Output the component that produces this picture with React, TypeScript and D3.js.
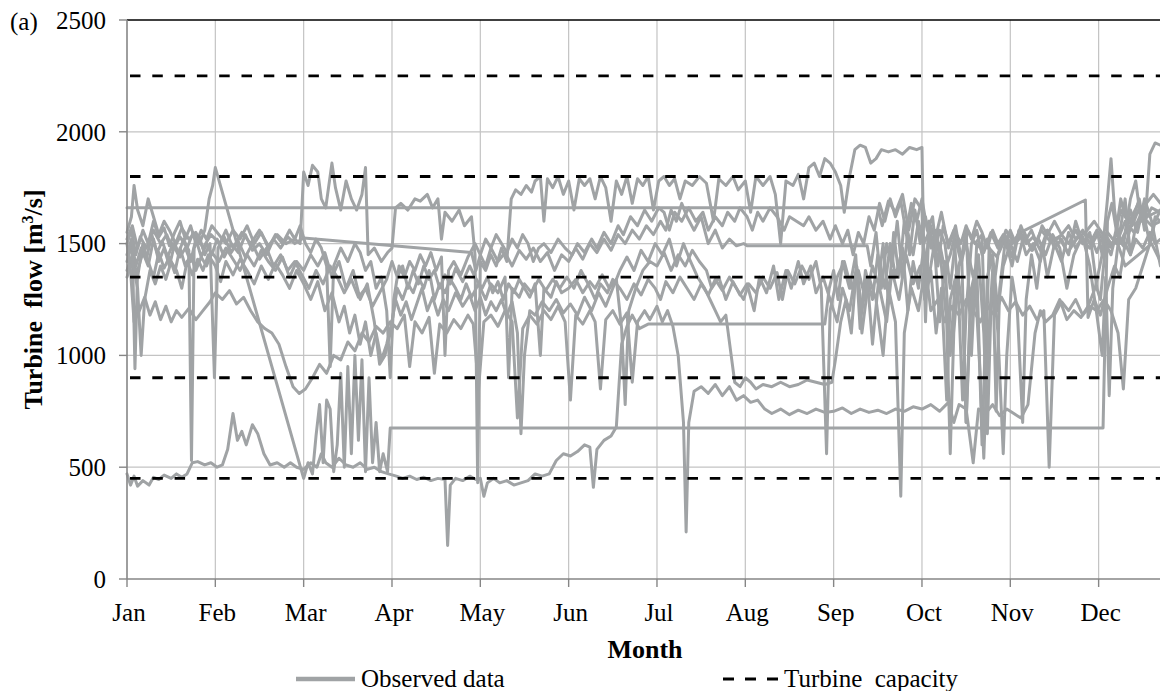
import React from "react";
import * as d3 from "d3";

// x values are in months from 1 Jan (0 = Jan, 1 = Feb, ...), y values in m3/s
type Pt = [number, number];

const MONTHS = ["Jan", "Feb", "Mar", "Apr", "May", "Jun", "Jul", "Aug", "Sep", "Oct", "Nov", "Dec"];
const Y_TICKS = [0, 500, 1000, 1500, 2000, 2500];
const CAPACITY = [450, 900, 1350, 1800, 2250];

const OBS_A: Pt[] = [
  [0, 1660], [8.5, 1660], [8.55, 1580], [8.62, 1690], [8.7, 1640], [8.78, 1720], [8.85, 1560], [8.92, 1700],
  [9.0, 1650], [9.04, 1150], [9.08, 1600], [9.15, 1520], [9.22, 1640], [9.3, 1480], [9.38, 1580], [9.45, 1420],
  [9.52, 1560], [9.6, 1500], [9.68, 1540], [9.72, 950], [9.76, 1480], [9.85, 1440], [9.95, 1560], [10.05, 1500],
  [10.15, 1540], [10.25, 1470], [10.35, 1560], [10.45, 1510], [10.55, 1530], [10.65, 1460], [10.75, 1520],
  [10.85, 1550], [10.95, 1600], [11.05, 1540], [11.15, 1480], [11.25, 1650], [11.35, 1600], [11.45, 1680],
  [11.55, 1620], [11.7, 1650],
];

const OBS_B: Pt[] = [
  [0, 1500], [0.05, 1560], [0.1, 1450], [0.15, 1530], [0.22, 1480], [0.3, 1560], [0.38, 1500], [0.45, 1540],
  [0.52, 1470], [0.6, 1530], [0.68, 1480], [0.75, 1550], [0.82, 1500], [0.88, 1560], [0.93, 1700], [0.97, 1760],
  [1.0, 1840], [2.0, 450], [2.05, 520], [2.1, 470], [2.14, 640], [2.18, 780], [2.22, 520], [2.26, 800],
  [2.3, 760], [2.34, 480], [2.38, 600], [2.42, 920], [2.46, 500], [2.5, 950], [2.54, 560], [2.58, 1000],
  [2.62, 620], [2.66, 980], [2.7, 480], [2.74, 900], [2.78, 520], [2.82, 700], [2.86, 480], [2.9, 560],
  [2.95, 480], [2.98, 675], [11.05, 675], [11.1, 1600], [11.15, 1680], [11.2, 1560], [11.25, 1700],
  [11.3, 1620], [11.38, 1580], [11.45, 1650], [11.52, 1600], [11.6, 1660], [11.7, 1640],
];

const OBS_C: Pt[] = [
  [0, 470], [0.04, 420], [0.08, 460], [0.12, 415], [0.18, 440], [0.25, 420], [0.3, 455], [0.36, 445],
  [0.42, 465], [0.5, 450], [0.56, 470], [0.62, 455], [0.68, 470], [0.74, 520], [0.8, 525], [0.88, 510],
  [0.95, 520], [1.02, 500], [1.08, 510], [1.14, 580], [1.2, 740], [1.25, 620], [1.3, 660], [1.35, 600],
  [1.42, 690], [1.48, 650], [1.55, 560], [1.62, 510], [1.7, 520], [1.78, 500], [1.85, 520], [1.92, 500],
  [2.0, 490], [2.08, 520], [2.15, 500], [2.2, 560], [2.25, 520], [2.32, 500], [2.4, 540], [2.48, 510],
  [2.56, 500], [2.64, 520], [2.72, 490], [2.8, 500], [2.88, 480], [2.96, 470], [3.05, 460], [3.12, 450],
  [3.2, 460], [3.28, 445], [3.36, 455], [3.44, 440], [3.52, 450], [3.6, 445], [3.63, 150], [3.66, 420],
  [3.72, 450], [3.8, 440], [3.88, 460], [3.95, 445], [4.0, 450], [4.04, 370], [4.08, 430], [4.15, 450],
  [4.22, 430], [4.3, 440], [4.38, 420], [4.46, 430], [4.54, 440], [4.62, 470], [4.7, 460], [4.78, 470],
  [4.86, 530], [4.94, 560], [5.02, 550], [5.1, 570], [5.18, 600], [5.24, 590], [5.28, 410], [5.32, 580],
  [5.4, 620], [5.48, 640], [5.54, 680], [5.6, 1050], [5.66, 1130], [5.72, 1180], [5.8, 1120], [5.9, 1140],
  [7.9, 1140], [7.95, 1300], [8.0, 1380], [8.05, 1250], [8.1, 1420], [8.18, 1300], [8.25, 1450], [8.3, 1120],
  [8.36, 1380], [8.44, 1250], [8.5, 1450], [8.58, 1300], [8.64, 1500], [8.7, 1350], [8.78, 1480], [8.84, 1200],
  [8.9, 1420], [8.96, 1300], [9.02, 1480], [9.08, 1350], [9.14, 1500], [9.2, 1150], [9.26, 1420], [9.32, 1000],
  [9.38, 1350], [9.45, 1450], [9.5, 700], [9.56, 1300], [9.62, 1400], [9.68, 600], [9.74, 1350], [9.8, 1450],
  [9.86, 1200], [9.92, 1400], [10.0, 1500], [10.08, 1420], [10.16, 1550], [10.24, 1470], [10.32, 1520],
  [10.4, 1450], [10.48, 1540], [10.56, 1480], [10.64, 1300], [10.72, 1450], [10.8, 1520], [10.9, 1480],
  [11.0, 1550], [11.1, 1480], [11.2, 1520], [11.3, 1400], [11.45, 1450], [11.6, 1500], [11.7, 1420],
];

const OBS_D: Pt[] = [
  [0, 1550], [0.05, 1620], [0.08, 1760], [0.12, 1650], [0.18, 1580], [0.24, 1700], [0.3, 1620], [0.36, 1540],
  [0.42, 1600], [0.48, 1560], [0.55, 1500], [0.62, 1570], [0.7, 1520], [0.78, 1550], [0.86, 1480], [0.95, 1540],
  [1.05, 1500], [1.12, 1560], [1.2, 1480], [1.3, 1550], [1.4, 1500], [1.5, 1560], [1.6, 1490], [1.7, 1540],
  [1.8, 1500], [1.9, 1520], [1.96, 1500], [2.0, 1820], [2.05, 1760], [2.1, 1850], [2.16, 1820], [2.2, 1700],
  [2.25, 1660], [2.32, 1860], [2.36, 1750], [2.42, 1650], [2.48, 1780], [2.54, 1700], [2.6, 1650], [2.66, 1720],
  [2.7, 1840], [2.73, 1450], [2.8, 1480], [2.88, 1420], [2.95, 1460], [3.0, 1480], [3.04, 1660], [3.1, 1680],
  [3.18, 1650], [3.26, 1700], [3.32, 1690], [3.4, 1720], [3.46, 1660], [3.52, 1700], [3.56, 1520], [3.6, 1640],
  [3.68, 1600], [3.76, 1650], [3.82, 1580], [3.9, 1620], [3.94, 1450], [3.97, 430], [4.0, 1420], [4.06, 1380],
  [4.12, 1450], [4.18, 1400], [4.24, 1480], [4.3, 1420], [4.35, 1700], [4.4, 1740], [4.46, 1720], [4.52, 1760],
  [4.58, 1730], [4.62, 1780], [4.68, 1800], [4.72, 1600], [4.76, 1790], [4.82, 1750], [4.88, 1800], [4.94, 1720],
  [5.0, 1780], [5.06, 1650], [5.12, 1790], [5.18, 1760], [5.24, 1790], [5.3, 1700], [5.36, 1800], [5.42, 1750],
  [5.48, 1600], [5.54, 1780], [5.6, 1720], [5.66, 1800], [5.72, 1680], [5.78, 1790], [5.84, 1760], [5.9, 1800],
  [5.96, 1650], [6.02, 1780], [6.08, 1800], [6.14, 1760], [6.2, 1790], [6.26, 1700], [6.32, 1780], [6.4, 1760],
  [6.48, 1800], [6.56, 1770], [6.64, 1600], [6.7, 1790], [6.78, 1760], [6.86, 1800], [6.92, 1740], [7.0, 1780],
  [7.06, 1640], [7.12, 1800], [7.2, 1760], [7.28, 1800], [7.34, 1720], [7.4, 1500], [7.46, 1780], [7.54, 1760],
  [7.6, 1810], [7.66, 1700], [7.72, 1840], [7.78, 1860], [7.84, 1800], [7.9, 1880], [7.96, 1860], [8.02, 1820],
  [8.08, 1760], [8.12, 1640], [8.18, 1800], [8.24, 1920], [8.3, 1940], [8.36, 1930], [8.42, 1860], [8.48, 1880],
  [8.54, 1920], [8.62, 1910], [8.7, 1920], [8.78, 1900], [8.86, 1930], [8.94, 1920], [9.0, 1930], [9.03, 1250],
  [9.08, 1600], [9.14, 1450], [9.2, 1560], [9.26, 1500], [9.32, 1300], [9.38, 1520], [9.44, 1420], [9.5, 1560],
  [9.56, 1000], [9.62, 1500], [9.7, 1460], [9.78, 1550], [9.86, 1480], [9.94, 1540], [10.02, 1440], [10.1, 1560],
  [10.18, 1500], [10.26, 1530], [10.34, 1470], [10.42, 1560], [10.5, 1510], [10.58, 1540], [10.66, 1500],
  [10.74, 1560], [10.82, 1500], [10.9, 1540], [10.98, 1460], [11.06, 1550], [11.14, 1500], [11.22, 1520],
  [11.3, 1480], [11.38, 1600], [11.46, 1700], [11.52, 1560], [11.58, 1900], [11.64, 1950], [11.7, 1940],
];

const OBS_E: Pt[] = [
  [0, 1420], [0.06, 1500], [0.09, 940], [0.12, 1380], [0.18, 1460], [0.24, 1400], [0.3, 1520], [0.36, 1420],
  [0.42, 1480], [0.48, 1400], [0.54, 1500], [0.6, 1440], [0.66, 1480], [0.72, 1420], [0.78, 1520], [0.84, 1440],
  [0.9, 1500], [0.96, 1450], [1.02, 1520], [1.1, 1440], [1.18, 1500], [1.26, 1460], [1.34, 1540], [1.42, 1470],
  [1.5, 1500], [1.58, 1450], [1.66, 1520], [1.74, 1480], [1.82, 1530], [1.9, 1500], [2.0, 1525], [3.9, 1460],
  [3.95, 1380], [4.0, 1450], [4.06, 1400], [4.12, 1480], [4.2, 1420], [4.28, 1460], [4.36, 1400], [4.44, 1470],
  [4.52, 1430], [4.6, 1480], [4.68, 1420], [4.76, 1460], [4.84, 1380], [4.92, 1450], [5.0, 1420], [5.08, 1480],
  [5.16, 1430], [5.24, 1500], [5.32, 1460], [5.4, 1520], [5.48, 1470], [5.56, 1540], [5.64, 1500], [5.72, 1560],
  [5.8, 1520], [5.88, 1580], [5.96, 1540], [6.04, 1600], [6.1, 1560], [6.16, 1650], [6.22, 1600], [6.28, 1680],
  [6.34, 1620], [6.42, 1560], [6.5, 1620], [6.58, 1500], [6.66, 1560], [6.74, 1480], [6.82, 1520], [6.9, 1490],
  [6.98, 1500], [7.02, 1490], [8.38, 1490], [8.42, 1400], [8.48, 1550], [8.54, 1300], [8.6, 1500], [8.66, 1400],
  [8.72, 1600], [8.78, 1350], [8.84, 1550], [8.9, 1450], [8.96, 1600], [9.02, 1500], [9.08, 1550], [9.14, 1450],
  [9.2, 1500], [9.26, 1380], [9.32, 1450], [9.38, 1550], [9.44, 1500], [9.5, 1580], [9.56, 1520], [9.62, 1600],
  [9.68, 1550], [9.74, 1480], [9.8, 1560], [9.86, 1500], [9.92, 1540], [10.02, 1500], [10.1, 1547],
  [10.85, 1695], [10.88, 1170], [10.95, 1250], [11.02, 1180], [11.1, 1300], [11.18, 1400], [11.24, 1350],
  [11.3, 1500], [11.36, 1450], [11.42, 1520], [11.5, 1480], [11.58, 1550], [11.64, 1500], [11.7, 1520],
];

const OBS_F: Pt[] = [
  [0, 1500], [0.04, 1380], [0.08, 1150], [0.14, 1200], [0.2, 1260], [0.26, 1180], [0.32, 1240], [0.38, 1160],
  [0.44, 1220], [0.5, 1150], [0.56, 1200], [0.62, 1170], [0.7, 1210], [0.78, 1160], [0.86, 1200], [0.94, 1240],
  [1.0, 1280], [1.08, 1250], [1.16, 1290], [1.24, 1230], [1.32, 1260], [1.4, 1200], [1.48, 1150], [1.56, 1120],
  [1.64, 1100], [1.72, 1050], [1.8, 950], [1.88, 860], [1.95, 830], [2.02, 850], [2.1, 900], [2.18, 960],
  [2.26, 920], [2.34, 1000], [2.42, 980], [2.5, 1060], [2.58, 1020], [2.66, 1100], [2.74, 1060], [2.82, 1130],
  [2.9, 1100], [2.98, 1150], [3.06, 1120], [3.14, 1180], [3.2, 950], [3.26, 1150], [3.34, 1100], [3.42, 1170],
  [3.48, 920], [3.54, 1140], [3.62, 1100], [3.7, 1160], [3.78, 1120], [3.86, 1180], [3.92, 1140], [3.98, 850],
  [4.04, 1150], [4.12, 1180], [4.2, 1130], [4.28, 1200], [4.36, 1150], [4.42, 720], [4.48, 1120], [4.56, 1180],
  [4.64, 1140], [4.72, 1200], [4.8, 1160], [4.88, 1220], [4.96, 1150], [5.02, 800], [5.08, 1180], [5.16, 1140],
  [5.24, 1200], [5.3, 1150], [5.36, 850], [5.42, 1160], [5.5, 1200], [5.58, 1140], [5.66, 1190], [5.72, 880],
  [5.78, 1150], [5.86, 1200], [5.92, 1160], [6.0, 1220], [6.06, 1150], [6.12, 1200], [6.18, 1130], [6.24, 1000],
  [6.3, 700], [6.33, 210], [6.36, 700], [6.42, 840], [6.5, 860], [6.58, 830], [6.66, 870], [6.74, 820],
  [6.82, 860], [6.9, 800], [6.98, 820], [7.06, 790], [7.14, 800], [7.22, 760], [7.3, 740], [7.4, 760],
  [7.5, 735], [7.6, 755], [7.7, 740], [7.8, 760], [7.9, 745], [8.0, 750], [8.1, 765], [8.2, 740], [8.3, 760],
  [8.4, 745], [8.5, 755], [8.6, 740], [8.7, 760], [8.8, 750], [8.9, 770], [9.0, 760], [9.1, 780], [9.2, 750],
  [9.3, 790], [9.36, 700], [9.42, 780], [9.5, 760], [9.58, 520], [9.64, 760], [9.72, 740], [9.8, 780],
  [9.88, 730], [9.96, 760], [10.04, 740], [10.12, 720], [10.2, 780], [10.28, 1100], [10.34, 1200], [10.4, 1150],
  [10.48, 1180], [10.56, 1250], [10.64, 1160], [10.72, 1200], [10.8, 1170], [10.88, 1220], [10.96, 1300],
  [11.04, 1450], [11.1, 1550], [11.2, 1500], [11.3, 1600], [11.4, 1550], [11.5, 1620], [11.6, 1580], [11.7, 1600],
];

const OBS_G: Pt[] = [
  [0, 1450], [0.05, 1520], [0.1, 1400], [0.16, 1480], [0.22, 1430], [0.28, 1540], [0.34, 1460], [0.4, 1510],
  [0.46, 1440], [0.52, 1500], [0.58, 1450], [0.64, 1520], [0.7, 1470], [0.73, 530], [0.76, 1480], [0.82, 1530],
  [0.88, 1450], [0.94, 1500], [0.99, 900], [1.03, 1480], [1.1, 1530], [1.18, 1460], [1.26, 1510], [1.34, 1440],
  [1.42, 1500], [1.5, 1430], [1.58, 1480], [1.66, 1400], [1.74, 1450], [1.82, 1380], [1.9, 1420], [1.98, 1360],
  [2.06, 1300], [2.14, 1380], [2.22, 1320], [2.3, 1400], [2.38, 1350], [2.46, 1280], [2.54, 1340], [2.62, 1260],
  [2.7, 1300], [2.78, 1220], [2.86, 1280], [2.94, 1340], [3.0, 1420], [3.06, 1350], [3.12, 1400], [3.18, 1300],
  [3.24, 1380], [3.3, 1320], [3.36, 1400], [3.42, 1340], [3.48, 1380], [3.54, 1300], [3.6, 1360], [3.66, 1320],
  [3.72, 1390], [3.8, 1330], [3.88, 1400], [3.94, 1350], [4.02, 1300], [4.08, 1350], [4.14, 1280], [4.2, 1330],
  [4.26, 1250], [4.32, 1320], [4.38, 1280], [4.44, 1340], [4.5, 1300], [4.56, 1260], [4.62, 1320], [4.68, 1000],
  [4.72, 1300], [4.8, 1260], [4.86, 1330], [4.92, 1280], [5.0, 1300], [5.08, 1340], [5.16, 1280], [5.24, 1330],
  [5.3, 1300], [5.38, 1360], [5.46, 1300], [5.54, 1340], [5.6, 1120], [5.64, 780], [5.68, 1200], [5.76, 1300],
  [5.84, 1380], [5.92, 1420], [6.0, 1400], [6.08, 1460], [6.16, 1380], [6.24, 1450], [6.32, 1400], [6.4, 1470],
  [6.48, 1420], [6.56, 1380], [6.62, 1300], [6.7, 1350], [6.78, 1250], [6.86, 1330], [6.94, 1270], [7.02, 1320],
  [7.1, 1200], [7.16, 1350], [7.24, 1280], [7.32, 1400], [7.38, 1250], [7.46, 1380], [7.52, 1300], [7.6, 1420],
  [7.66, 1320], [7.74, 1400], [7.8, 1280], [7.88, 1350], [7.96, 1250], [8.04, 1150], [8.1, 1300], [8.18, 1200],
  [8.26, 1400], [8.32, 1100], [8.4, 1350], [8.48, 1250], [8.56, 1000], [8.62, 1300], [8.7, 1150], [8.76, 370],
  [8.8, 1100], [8.88, 1300], [8.96, 1200], [9.04, 1400], [9.1, 1200], [9.18, 1250], [9.26, 1150], [9.34, 1220],
  [9.42, 1180], [9.5, 1250], [9.58, 1200], [9.66, 1150], [9.74, 1220], [9.82, 1180], [9.9, 1260], [9.98, 1200],
  [10.06, 1240], [10.14, 1180], [10.22, 1220], [10.3, 1160], [10.38, 1200], [10.44, 500], [10.5, 1180],
  [10.58, 1240], [10.66, 1200], [10.74, 1250], [10.82, 1180], [10.9, 1220], [10.98, 1200], [11.06, 1250],
  [11.14, 1200], [11.22, 1100], [11.28, 850], [11.34, 1250], [11.42, 1300], [11.5, 1400], [11.58, 1500],
  [11.64, 1600], [11.7, 1650],
];

const OBS_H: Pt[] = [
  [0, 1380], [0.06, 1450], [0.12, 1350], [0.18, 1500], [0.24, 1420], [0.3, 1350], [0.36, 1460], [0.42, 1390],
  [0.48, 1440], [0.54, 1370], [0.6, 1480], [0.66, 1400], [0.72, 1450], [0.78, 1380], [0.84, 1440], [0.9, 1400],
  [0.96, 1460], [1.04, 1420], [1.12, 1480], [1.2, 1430], [1.28, 1380], [1.36, 1450], [1.44, 1400], [1.52, 1470],
  [1.6, 1420], [1.68, 1380], [1.76, 1440], [1.84, 1350], [1.92, 1420], [2.0, 1380], [2.08, 1450], [2.16, 1400],
  [2.24, 1460], [2.32, 1350], [2.4, 1420], [2.48, 1300], [2.56, 1380], [2.64, 1250], [2.72, 1320], [2.8, 1150],
  [2.86, 960], [2.92, 1000], [2.98, 1100], [3.04, 1250], [3.1, 1180], [3.16, 1240], [3.22, 1160], [3.28, 1230],
  [3.34, 1300], [3.4, 1200], [3.46, 1260], [3.52, 1180], [3.58, 1250], [3.64, 1200], [3.72, 1280], [3.8, 1220],
  [3.88, 1270], [3.94, 1200], [4.0, 1260], [4.06, 1180], [4.12, 1240], [4.18, 1200], [4.24, 1250], [4.3, 1180],
  [4.36, 1240], [4.42, 1100], [4.46, 650], [4.5, 1000], [4.56, 1200], [4.62, 1180], [4.7, 1240], [4.78, 1200],
  [4.86, 1250], [4.94, 1190], [5.02, 1230], [5.1, 1180], [5.18, 1260], [5.26, 1200], [5.34, 1280], [5.42, 1220],
  [5.5, 1300], [5.58, 1380], [5.66, 1440], [5.74, 1380], [5.82, 1470], [5.9, 1420], [5.98, 1500], [6.06, 1450],
  [6.14, 1520], [6.22, 1400], [6.3, 1500], [6.38, 1420], [6.46, 1350], [6.54, 1300], [6.6, 1250], [6.66, 1200],
  [6.72, 1150], [6.78, 1180], [6.84, 1000], [6.88, 880], [6.94, 860], [7.0, 900], [7.06, 880], [7.12, 850],
  [7.2, 870], [7.3, 860], [7.4, 880], [7.5, 860], [7.6, 870], [7.7, 890], [7.8, 880], [7.9, 870], [7.98, 880],
  [8.02, 980], [8.08, 1150], [8.14, 1250], [8.2, 1100], [8.26, 1400], [8.32, 1200], [8.38, 1350], [8.44, 1050],
  [8.5, 1300], [8.56, 1500], [8.62, 1250], [8.68, 1550], [8.74, 1350], [8.8, 1600], [8.86, 1450], [8.92, 1650],
  [8.98, 1500], [9.04, 1620], [9.1, 1480], [9.16, 1560], [9.22, 1400], [9.28, 1150], [9.32, 560], [9.36, 1100],
  [9.42, 1400], [9.5, 1500], [9.58, 1350], [9.64, 1450], [9.7, 1100], [9.74, 650], [9.78, 1200], [9.86, 1450],
  [9.94, 1520], [10.02, 1400], [10.1, 1560], [10.18, 1450], [10.26, 1500], [10.34, 1420], [10.42, 1560],
  [10.5, 1480], [10.58, 1520], [10.66, 1450], [10.74, 1600], [10.82, 1500], [10.9, 1550], [10.98, 1300],
  [11.02, 1250], [11.08, 1500], [11.14, 1450], [11.2, 1550], [11.28, 1500], [11.36, 1650], [11.44, 1550],
  [11.52, 1700], [11.6, 1600], [11.7, 1400],
];

const OBS_I: Pt[] = [
  [0, 1520], [0.06, 1580], [0.12, 1480], [0.18, 1560], [0.24, 1500], [0.3, 1600], [0.36, 1530], [0.42, 1570],
  [0.48, 1490], [0.54, 1550], [0.6, 1600], [0.66, 1520], [0.72, 1580], [0.78, 1500], [0.84, 1560], [0.9, 1520],
  [0.96, 1580], [1.04, 1540], [1.12, 1500], [1.2, 1560], [1.28, 1520], [1.36, 1580], [1.44, 1500], [1.52, 1550],
  [1.6, 1480], [1.68, 1540], [1.76, 1500], [1.84, 1560], [1.9, 1520], [1.96, 1580], [2.02, 1500], [2.08, 1460],
  [2.14, 1520], [2.2, 1480], [2.26, 1400], [2.3, 950], [2.34, 1400], [2.42, 1480], [2.5, 1420], [2.58, 1500],
  [2.64, 1460], [2.7, 1380], [2.76, 1420], [2.82, 1300], [2.88, 1350], [2.94, 1200], [2.98, 900], [3.02, 1250],
  [3.08, 1400], [3.14, 1350], [3.2, 1420], [3.26, 1380], [3.32, 1450], [3.38, 1400], [3.44, 1460], [3.5, 1380],
  [3.56, 1440], [3.6, 1000], [3.64, 1380], [3.7, 1420], [3.78, 1360], [3.86, 1440], [3.94, 1500], [4.0, 1450],
  [4.06, 1520], [4.12, 1480], [4.18, 1540], [4.24, 1500], [4.3, 1460], [4.36, 1520], [4.42, 1480], [4.48, 1540],
  [4.54, 1500], [4.6, 1420], [4.66, 1480], [4.72, 1500], [4.8, 1460], [4.88, 1520], [4.96, 1480], [5.04, 1450],
  [5.1, 1500], [5.18, 1460], [5.26, 1520], [5.32, 1480], [5.4, 1550], [5.48, 1500], [5.56, 1580], [5.62, 1540],
  [5.7, 1620], [5.78, 1580], [5.86, 1650], [5.94, 1600], [6.02, 1660], [6.08, 1640], [6.14, 1560], [6.2, 1640],
  [6.28, 1600], [6.36, 1660], [6.44, 1600], [6.52, 1640], [6.58, 1560], [6.66, 1620], [6.74, 1580], [6.8, 1640],
  [6.88, 1600], [6.94, 1660], [7.02, 1620], [7.08, 1560], [7.14, 1640], [7.2, 1600], [7.28, 1660], [7.36, 1620],
  [7.44, 1560], [7.5, 1620], [7.58, 1600], [7.66, 1580], [7.72, 1620], [7.8, 1560], [7.88, 1600], [7.96, 1520],
  [8.02, 1580], [8.1, 1500], [8.16, 1560], [8.22, 1450], [8.28, 1550], [8.34, 1500], [8.4, 1620], [8.46, 1560],
  [8.52, 1680], [8.58, 1600], [8.64, 1700], [8.7, 1620], [8.76, 1690], [8.82, 1550], [8.88, 1680], [8.94, 1600],
  [9.0, 1700], [9.06, 1560], [9.12, 1620], [9.18, 1400], [9.24, 1580], [9.3, 1500], [9.36, 1560], [9.42, 1200],
  [9.46, 800], [9.5, 1200], [9.56, 1500], [9.62, 1560], [9.68, 1450], [9.74, 1520], [9.8, 1400], [9.84, 750],
  [9.88, 1300], [9.94, 1500], [10.0, 1560], [10.06, 1500], [10.12, 1580], [10.18, 1520], [10.24, 1560],
  [10.3, 1500], [10.36, 1580], [10.42, 1540], [10.5, 1600], [10.58, 1540], [10.66, 1580], [10.74, 1520],
  [10.82, 1560], [10.9, 1500], [10.98, 1560], [11.04, 1450], [11.1, 1700], [11.14, 1880], [11.18, 1650],
  [11.24, 1500], [11.3, 1550], [11.36, 1700], [11.42, 1780], [11.48, 1600], [11.54, 1680], [11.62, 1720],
  [11.7, 1680],
];

const OBS_J: Pt[] = [
  [0, 1350], [0.06, 1420], [0.12, 1300], [0.16, 1000], [0.2, 1250], [0.26, 1380], [0.32, 1320], [0.38, 1400],
  [0.44, 1340], [0.5, 1420], [0.56, 1380], [0.62, 1300], [0.68, 1420], [0.74, 1360], [0.8, 1430], [0.86, 1380],
  [0.92, 1450], [1.0, 1400], [1.06, 1330], [1.12, 1420], [1.2, 1360], [1.28, 1430], [1.36, 1380], [1.44, 1320],
  [1.52, 1400], [1.6, 1340], [1.68, 1410], [1.76, 1360], [1.84, 1300], [1.92, 1380], [2.0, 1320], [2.08, 1250],
  [2.16, 1330], [2.24, 1200], [2.32, 1280], [2.4, 1150], [2.46, 1220], [2.52, 1100], [2.58, 1180], [2.64, 1050],
  [2.7, 1150], [2.76, 1000], [2.82, 1100], [2.88, 980], [2.94, 1050], [3.0, 1150], [3.06, 1300], [3.12, 1250],
  [3.18, 1320], [3.24, 1280], [3.3, 1350], [3.36, 1300], [3.42, 1380], [3.48, 1250], [3.54, 1320], [3.6, 1280],
  [3.66, 1340], [3.72, 1300], [3.78, 1250], [3.84, 1320], [3.9, 1260], [3.98, 1320], [4.06, 1250], [4.12, 1320],
  [4.2, 1280], [4.28, 1350], [4.32, 900], [4.36, 1300], [4.44, 1260], [4.5, 1320], [4.58, 1280], [4.66, 1340],
  [4.74, 1290], [4.82, 1340], [4.9, 1300], [4.98, 1350], [5.06, 1300], [5.14, 1380], [5.22, 1320], [5.3, 1250],
  [5.36, 1320], [5.44, 1280], [5.5, 1340], [5.58, 1300], [5.66, 1250], [5.74, 1320], [5.82, 1270], [5.9, 1340],
  [5.98, 1300], [6.04, 1250], [6.1, 1330], [6.18, 1280], [6.26, 1350], [6.34, 1300], [6.42, 1250], [6.5, 1320],
  [6.58, 1270], [6.66, 1340], [6.74, 1290], [6.82, 1350], [6.9, 1300], [6.98, 1250], [7.04, 1320], [7.12, 1280],
  [7.2, 1350], [7.28, 1300], [7.36, 1370], [7.42, 1250], [7.48, 1380], [7.56, 1320], [7.64, 1400], [7.72, 1340],
  [7.8, 1420], [7.86, 1300], [7.92, 560], [7.96, 1200], [8.04, 1350], [8.12, 1420], [8.2, 1300], [8.28, 1380],
  [8.36, 1250], [8.44, 1400], [8.52, 1300], [8.6, 1150], [8.66, 1380], [8.74, 1250], [8.82, 1450], [8.9, 1320],
  [8.98, 1400], [9.04, 1250], [9.1, 1380], [9.16, 1100], [9.22, 1300], [9.28, 800], [9.32, 1250], [9.4, 1380],
  [9.46, 1200], [9.5, 700], [9.54, 1150], [9.6, 1350], [9.66, 900], [9.7, 540], [9.74, 1000], [9.8, 1380],
  [9.86, 1100], [9.92, 560], [9.96, 1000], [10.02, 1350], [10.08, 1200], [10.14, 700], [10.18, 1250],
  [10.24, 1450], [10.3, 1300], [10.36, 1500], [10.42, 1350], [10.5, 1500], [10.58, 1420], [10.66, 1550],
  [10.74, 1480], [10.82, 1530], [10.9, 1400], [10.98, 1180], [11.04, 1000], [11.08, 1350], [11.12, 820],
  [11.16, 1300], [11.22, 1500], [11.3, 1700], [11.36, 1450], [11.42, 1580], [11.5, 1650], [11.58, 1500],
  [11.64, 1620], [11.7, 1600],
];

const SERIES = [OBS_A, OBS_B, OBS_C, OBS_D, OBS_E, OBS_F, OBS_G, OBS_H, OBS_I, OBS_J];

const W = 1160;
const H = 691;
const M = { top: 20, left: 127, bottom: 579 };
const MONTH_W = 88.33;

const FONT = "'Liberation Serif', 'Times New Roman', serif";
const LINE_COLOR = "#a0a3a5";
const GRID = "#c3c3c3";
const AXIS = "#868686";

export default function App() {
  const x = d3.scaleLinear().domain([0, 12]).range([M.left, M.left + 12 * MONTH_W]);
  const y = d3.scaleLinear().domain([0, 2500]).range([M.bottom, M.top]);
  const xMax = W;

  const line = d3.line<Pt>().x(d => x(d[0])).y(d => y(d[1]));

  return (
    <div style={{ position: "absolute", left: 0, top: 0 }}>
      <svg width={W} height={H} style={{ display: "block", background: "#fff" }} fontFamily={FONT}>
        {/* horizontal grid */}
        {Y_TICKS.filter(t => t > 0 && t < 2500).map(t => (
          <line key={`hg${t}`} x1={M.left} x2={xMax} y1={y(t)} y2={y(t)} stroke={GRID} strokeWidth={1.2} />
        ))}
        {/* vertical grid */}
        {MONTHS.map((m, i) => i > 0 && (
          <line key={`vg${m}`} x1={x(i)} x2={x(i)} y1={M.top} y2={M.bottom} stroke={GRID} strokeWidth={1.2} />
        ))}
        {/* top border */}
        <line x1={M.left} x2={xMax} y1={y(2500)} y2={y(2500)} stroke="#000" strokeWidth={1.4} />

        {/* observed data */}
        <g fill="none" stroke={LINE_COLOR} strokeWidth={3} strokeLinejoin="round" strokeLinecap="round">
          {SERIES.map((s, i) => <path key={i} d={line(s) ?? ""} />)}
        </g>

        {/* turbine capacity */}
        {CAPACITY.map(c => (
          <line key={`cap${c}`} x1={M.left + 3} x2={xMax} y1={y(c)} y2={y(c)}
            stroke="#000" strokeWidth={2.8} strokeDasharray="10.5 11.8" />
        ))}

        {/* axes */}
        <line x1={M.left} x2={M.left} y1={M.top} y2={M.bottom} stroke={AXIS} strokeWidth={1.6} />
        <line x1={M.left} x2={xMax} y1={M.bottom} y2={M.bottom} stroke={AXIS} strokeWidth={1.6} />
        {Y_TICKS.map(t => (
          <g key={`yt${t}`}>
            <line x1={M.left - 8} x2={M.left} y1={y(t)} y2={y(t)} stroke={AXIS} strokeWidth={1.4} />
            <text x={106} y={y(t)} dy="0.35em" textAnchor="end" fontSize={25}>{t}</text>
          </g>
        ))}
        {MONTHS.map((m, i) => (
          <g key={`xt${m}`}>
            <line x1={x(i)} x2={x(i)} y1={M.bottom} y2={M.bottom + 8} stroke={AXIS} strokeWidth={1.4} />
            <text x={x(i) + 2} y={621} textAnchor="middle" fontSize={25}>{m}</text>
          </g>
        ))}

        <text x={10} y={30} fontSize={25}>(a)</text>

        <text x={645} y={658} textAnchor="middle" fontSize={26} fontWeight="bold">Month</text>
        <text transform={`translate(42,${(M.top + M.bottom) / 2}) rotate(-90)`} textAnchor="middle"
          fontSize={26} fontWeight="bold" style={{ whiteSpace: "pre" }}>
          Turbine  flow [m<tspan fontSize={16} dy={-9}>3</tspan><tspan dy={9}>/s]</tspan>
        </text>

        {/* legend */}
        <line x1={296} x2={355} y1={679} y2={679} stroke={LINE_COLOR} strokeWidth={4.5} />
        <text x={361} y={687} fontSize={25}>Observed data</text>
        <line x1={723} x2={779} y1={679} y2={679} stroke="#000" strokeWidth={2.8} strokeDasharray="11 11" />
        <text x={784} y={687} fontSize={25} style={{ whiteSpace: "pre" }}>Turbine  capacity</text>
      </svg>
    </div>
  );
}
